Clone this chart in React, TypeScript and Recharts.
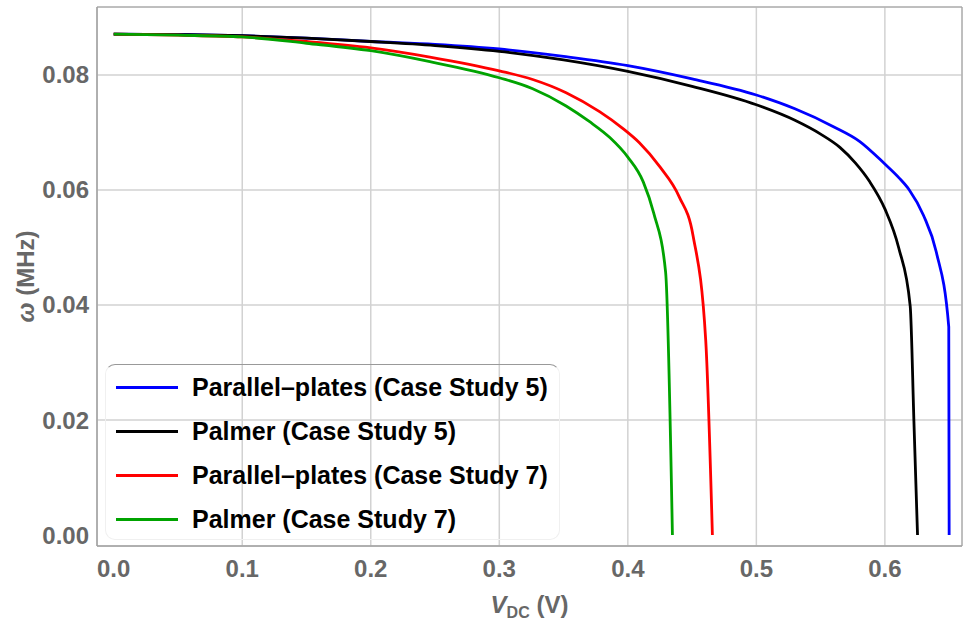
import React from "react";
import { LineChart, Line, XAxis, YAxis, CartesianGrid, Legend, ReferenceArea } from "recharts";

// axis setup
const xDomain = [-0.013, 0.66];
const yDomain = [-0.0019, 0.0918];
const xTicks = [0, 0.1, 0.2, 0.3, 0.4, 0.5, 0.6];
const yTicks = [0, 0.02, 0.04, 0.06, 0.08];
const gridX = [0.1, 0.2, 0.3, 0.4, 0.5, 0.6];
const gridY = [0.02, 0.04, 0.06, 0.08];

// Parallel-plates (Case Study 5)
const pp5V = [0, 0.05, 0.1, 0.15, 0.2, 0.25, 0.3, 0.35, 0.4, 0.45, 0.5, 0.53, 0.56, 0.58, 0.6, 0.611, 0.619, 0.63, 0.64, 0.6497, 0.65];
const pp5W = [0.0871, 0.087, 0.0868, 0.0864, 0.0858, 0.0853, 0.0845, 0.0832, 0.0816, 0.0793, 0.0765, 0.0741, 0.071, 0.0685, 0.0645, 0.0621, 0.06, 0.0556, 0.0492, 0.0362, 0];

// Palmer (Case Study 5)
const pa5V = [0, 0.05, 0.1, 0.15, 0.2, 0.25, 0.3, 0.35, 0.4, 0.45, 0.5, 0.53, 0.55, 0.565, 0.577, 0.588, 0.6, 0.6108, 0.6197, 0.6226, 0.6254];
const pa5W = [0.0871, 0.087, 0.0868, 0.0864, 0.0858, 0.0851, 0.0841, 0.0826, 0.0806, 0.078, 0.0748, 0.0721, 0.0697, 0.0674, 0.0647, 0.0615, 0.0567, 0.0499, 0.0398, 0.0197, 0];

// Parallel-plates (Case Study 7)
const pp7V = [0, 0.05, 0.1, 0.15, 0.2, 0.246, 0.3, 0.326, 0.352, 0.378, 0.396, 0.409, 0.425, 0.44, 0.4508, 0.4606, 0.4658];
const pp7W = [0.0871, 0.0869, 0.0866, 0.0858, 0.0847, 0.0831, 0.0807, 0.0792, 0.0769, 0.0736, 0.0707, 0.0682, 0.064, 0.0588, 0.052, 0.0339, 0];

// Palmer (Case Study 7)
const pa7V = [0, 0.05, 0.1, 0.15, 0.2, 0.246, 0.3, 0.326, 0.352, 0.37, 0.386, 0.4, 0.412, 0.4201, 0.4294, 0.4347];
const pa7W = [0.0871, 0.0869, 0.0866, 0.0855, 0.0842, 0.0823, 0.0795, 0.0776, 0.0746, 0.0719, 0.0691, 0.0657, 0.0614, 0.056, 0.0457, 0];

const seriesNames = [
  "Parallel\u2013plates (Case Study 5)",
  "Palmer (Case Study 5)",
  "Parallel\u2013plates (Case Study 7)",
  "Palmer (Case Study 7)",
];
const seriesColors = ["#0000ff", "#000000", "#ff0000", "#00a300"];

const toPoints = (v: number[], w: number[]) => v.map((x, i) => ({ v: x, w: w[i] }));

const series = [
  toPoints(pp5V, pp5W),
  toPoints(pa5V, pa5W),
  toPoints(pp7V, pp7W),
  toPoints(pa7V, pa7W),
];

const font = "'Liberation Sans', Arial, sans-serif";
const tickStyle = { fill: "#676767", fontSize: 24, fontWeight: 700, fontFamily: font };

function LegendBox() {
  return (
    <div
      style={{
        width: 455,
        height: 176,
        boxSizing: "border-box",
        border: "1px solid #f0f0f0",
        borderTop: "1px solid #999",
        borderRadius: 10,
        fontFamily: font,
      }}
    >
      {seriesNames.map((name, i) => (
        <div key={name} style={{ height: 44, display: "flex", alignItems: "center" }}>
          <div style={{ marginLeft: 10, width: 62, height: 3, background: seriesColors[i] }} />
          <span style={{ marginLeft: 14, fontSize: 25, fontWeight: 700, color: "#000", whiteSpace: "nowrap" }}>
            {name}
          </span>
        </div>
      ))}
    </div>
  );
}

function XLabel(props: any) {
  const vb = props.viewBox || {};
  const cx = vb.x + vb.width / 2;
  return (
    <text x={cx} y={vb.y + 67} textAnchor="middle" fill="#676767" fontFamily={font} fontWeight={700} fontSize={24}>
      <tspan fontStyle="italic">V</tspan>
      <tspan fontSize={16} dy={5}>DC</tspan>
      <tspan dy={-5}> (V)</tspan>
    </text>
  );
}

function YLabel(props: any) {
  const vb = props.viewBox || {};
  const cx = vb.x + 25;
  const cy = vb.y + vb.height / 2;
  return (
    <text
      x={cx}
      y={cy}
      transform={`rotate(-90, ${cx}, ${cy})`}
      textAnchor="middle"
      dominantBaseline="central"
      fill="#676767"
      fontFamily={font}
      fontWeight={700}
      fontSize={24}
    >
      <tspan fontStyle="italic">ω</tspan> (MHz)
    </text>
  );
}

export default function App() {
  return (
    <div style={{ position: "absolute", left: 0, top: 0, background: "#fff" }}>
      <LineChart width={963} height={623} margin={{ top: 7, right: 1, left: 0, bottom: 0 }}>
        <CartesianGrid xAxisId="grid" yAxisId="grid" stroke="#d2d2d2" strokeWidth={1.5} />
        <XAxis xAxisId="grid" dataKey="v" type="number" domain={xDomain} ticks={gridX} allowDataOverflow hide />
        <YAxis yAxisId="grid" dataKey="w" type="number" domain={yDomain} ticks={gridY} allowDataOverflow hide />
        <XAxis
          dataKey="v"
          type="number"
          domain={xDomain}
          ticks={xTicks}
          allowDataOverflow
          height={77}
          tickLine={false}
          tickSize={6}
          tickMargin={8}
          axisLine={{ stroke: "#a0a0a0" }}
          tick={tickStyle}
          tickFormatter={(t: number) => t.toFixed(1)}
          label={<XLabel />}
        />
        <YAxis
          dataKey="w"
          type="number"
          domain={yDomain}
          ticks={yTicks}
          allowDataOverflow
          width={97}
          tickLine={false}
          tickSize={0}
          tickMargin={8}
          axisLine={{ stroke: "#a0a0a0" }}
          tick={tickStyle}
          tickFormatter={(t: number) => t.toFixed(2)}
          label={<YLabel />}
        />
        <ReferenceArea
          x1={xDomain[0]}
          x2={xDomain[1]}
          y1={yDomain[0]}
          y2={yDomain[1]}
          fill="none"
          stroke="#a0a0a0"
          strokeWidth={1}
        />
        {series.map((pts, i) => (
          <Line
            key={seriesNames[i]}
            data={pts}
            dataKey="w"
            name={seriesNames[i]}
            type="monotoneX"
            stroke={seriesColors[i]}
            strokeWidth={2.8}
            dot={false}
            activeDot={false}
            isAnimationActive={false}
          />
        ))}
        <Legend
          layout="vertical"
          align="center"
          verticalAlign="middle"
          content={() => <LegendBox />}
          wrapperStyle={{ left: 105, top: 364, width: 455, height: 176 }}
        />
      </LineChart>
    </div>
  );
}
